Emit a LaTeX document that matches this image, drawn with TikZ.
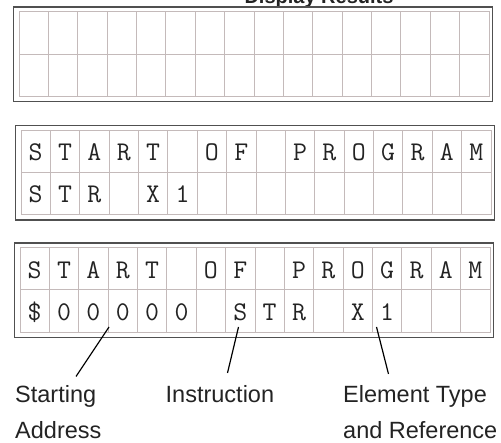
\documentclass[tikz,border=0pt]{standalone}
\usepackage{fontspec}
\setmainfont{Liberation Sans}

\definecolor{gridline}{RGB}{196,186,186}
\definecolor{frameline}{RGB}{80,80,80}
\definecolor{ink}{RGB}{35,35,35}

\tikzset{
  cellgrid/.style={draw=gridline, line width=0.9pt},
  bezel/.style={draw=frameline, line width=1.5pt},
  lcdchar/.style={font=\ttfamily\fontsize{27}{27}\selectfont, text=ink, inner sep=0pt, anchor=base},
  caption/.style={font=\fontsize{23.5}{28}\selectfont, text=ink, inner sep=0pt, anchor=base west},
  headline/.style={font=\bfseries\fontsize{20}{24}\selectfont, text=ink, inner sep=0pt, anchor=base},
  pointer/.style={draw=black, line width=1.2pt}
}

% 2 x 16 character display: #1 = left, #2 = top of the character grid
\newcommand\lcdpanel[2]{%
  \draw[bezel] ({#1-5.5},{#2-4.5}) rectangle ({#1+473.5},{#2+90});
  \draw[cellgrid] (#1,#2) rectangle ({#1+470},{#2+84.6});
  \draw[cellgrid] (#1,{#2+42.3}) -- ({#1+470},{#2+42.3});
  \foreach \k in {1,...,15}
    \draw[cellgrid] ({#1+\k*29.375},#2) -- ({#1+\k*29.375},{#2+84.6});
}

% one line of characters: #1 = name prefix, #2 = grid left, #3 = row centre, #4 = characters
\newcommand\lcdrow[4]{%
  \foreach \ch [count=\i] in {#4}
    \node[lcdchar] (#1-\i) at ({#2+(\i-0.5)*29.375},{#3+9.5}) {\ch};
}

\begin{document}
\begin{tikzpicture}[x=1pt,y=-1pt]
  \useasboundingbox (0,0) rectangle (501,443);

  \node[headline] (title) at (319,4) {Display Results};

  % blank display
  \lcdpanel{19}{11.7}

  % display after the first instruction
  \lcdpanel{21}{130}
  \lcdrow{pa}{21}{151.15}{S,T,A,R,T,{},O,F,{},P,R,O,G,R,A,M}
  \lcdrow{pb}{21}{193.45}{S,T,R,{},X,1}

  % display with address shown
  \lcdpanel{20}{247.5}
  \lcdrow{qa}{20}{268.65}{S,T,A,R,T,{},O,F,{},P,R,O,G,R,A,M}
  \lcdrow{qb}{20}{310.95}{\$,0,0,0,0,0,{},S,T,R,{},X,1}

  % captions
  \node[caption] (addr1) at (15,403) {Starting};
  \node[caption] (addr2) at (15,439) {Address};
  \node[caption] (instr) at (165.5,403) {Instruction};
  \node[caption] (elem1) at (343,403) {Element Type};
  \node[caption] (elem2) at (343,439) {and Reference};

  % pointer lines
  \coordinate (addrTop) at (109,327);
  \coordinate (addrEnd) at (76,376.5);
  \coordinate (instrTop) at (238.5,327);
  \coordinate (instrEnd) at (227.5,373);
  \coordinate (elemTop) at (376.5,327);
  \coordinate (elemEnd) at (388.5,374);
  \draw[pointer] (addrTop) -- (addrEnd);
  \draw[pointer] (instrTop) -- (instrEnd);
  \draw[pointer] (elemTop) -- (elemEnd);
\end{tikzpicture}
\end{document}
